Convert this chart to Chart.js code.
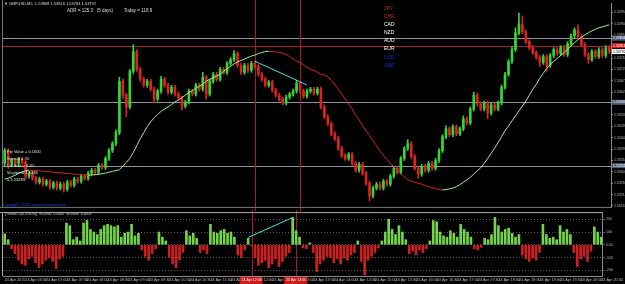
<!DOCTYPE html>
<html>
<head>
<meta charset="utf-8">
<script src="https://cdn.jsdelivr.net/npm/chart.js@4"></script>
<style>
  body { margin: 0; background: #000; }
  #wrap { position: relative; width: 625px; height: 284px; background: #000; overflow: hidden; font-family: 'Liberation Sans', Arial, sans-serif; }
  canvas { position: absolute; left: 0; }
  .txt { position: absolute; white-space: pre; line-height: 1; }
</style>
</head>
<body>
<div id="wrap">
  <canvas id="mainChart" width="625" height="211" style="top:0"></canvas>
  <canvas id="oscChart" width="625" height="74" style="top:210px"></canvas>
  <div class="txt" style="left:4px;top:2px;font-size:4px;color:#ddd">▼ GBPUSD,M5  1.53808 1.53816 1.53784 1.53792</div>
  <div class="txt" style="left:67px;top:9px;font-size:4.5px;color:#ddd">ADR = 125.3   (5 days)         Today = 118.9</div>
  <div id="ccy" class="txt" style="left:384px;top:4px;font-size:5px;line-height:8.1px"></div>
  <div id="info" class="txt" style="left:7px;top:148px;font-size:4px;line-height:7px;color:#d8f0c8"></div>
  <div class="txt" style="left:3px;top:204px;font-size:3.5px;color:#2a40ff">Copyright © 2015, www.forexfactory.com</div>
  <div class="txt" style="left:5px;top:213px;font-size:3.5px;color:#ccc">[TrendCCI(6,3/3/20)]  94.0000  0.0000  94.0000  0.0000</div>
</div>
<script>
const priceTicks = [1.53950, 1.53904, 1.53858, 1.53812, 1.53766, 1.53720, 1.53674, 1.53628, 1.53582,
    1.53536, 1.53490, 1.53444, 1.53398, 1.53352, 1.53306, 1.53260, 1.53214, 1.53168];
const oscTicks = [200, 100, 0, -100, -200];

const open = [
    1.53340, 1.53392, 1.53336, 1.53352, 1.53340, 1.53356, 1.53344, 1.53288, 1.53300, 1.53280,
    1.53264, 1.53276, 1.53256, 1.53268, 1.53244, 1.53260, 1.53240, 1.53256, 1.53236, 1.53264,
    1.53252, 1.53276, 1.53268, 1.53288, 1.53280, 1.53300, 1.53312, 1.53304, 1.53332, 1.53324,
    1.53360, 1.53392, 1.53420, 1.53464, 1.53672, 1.53616, 1.53568, 1.53712, 1.53792, 1.53720,
    1.53680, 1.53656, 1.53672, 1.53640, 1.53600, 1.53632, 1.53680, 1.53656, 1.53628, 1.53648,
    1.53620, 1.53604, 1.53572, 1.53588, 1.53632, 1.53620, 1.53656, 1.53640, 1.53688, 1.53620,
    1.53672, 1.53700, 1.53680, 1.53720, 1.53708, 1.53744, 1.53760, 1.53784, 1.53736, 1.53708,
    1.53736, 1.53716, 1.53744, 1.53732, 1.53700, 1.53680, 1.53656, 1.53668, 1.53636, 1.53616,
    1.53600, 1.53584, 1.53608, 1.53620, 1.53632, 1.53664, 1.53632, 1.53612, 1.53632, 1.53640,
    1.53624, 1.53640, 1.53568, 1.53528, 1.53500, 1.53460, 1.53440, 1.53400, 1.53372, 1.53360,
    1.53376, 1.53340, 1.53312, 1.53336, 1.53300, 1.53260, 1.53208, 1.53240, 1.53256, 1.53240,
    1.53268, 1.53256, 1.53288, 1.53320, 1.53304, 1.53360, 1.53400, 1.53420, 1.53368, 1.53320,
    1.53296, 1.53328, 1.53312, 1.53340, 1.53320, 1.53352, 1.53392, 1.53448, 1.53480, 1.53456,
    1.53488, 1.53460, 1.53480, 1.53520, 1.53504, 1.53560, 1.53616, 1.53580, 1.53560, 1.53584,
    1.53544, 1.53576, 1.53560, 1.53584, 1.53648, 1.53700, 1.53752, 1.53800, 1.53868, 1.53904,
    1.53872, 1.53832, 1.53808, 1.53788, 1.53768, 1.53748, 1.53772, 1.53736, 1.53776, 1.53800,
    1.53784, 1.53808, 1.53780, 1.53824, 1.53856, 1.53880, 1.53852, 1.53820, 1.53780, 1.53760,
    1.53792, 1.53772, 1.53800, 1.53776, 1.53808
];
const close = [
    1.53392, 1.53336, 1.53352, 1.53340, 1.53356, 1.53344, 1.53288, 1.53300, 1.53280, 1.53264,
    1.53276, 1.53256, 1.53268, 1.53244, 1.53260, 1.53240, 1.53256, 1.53236, 1.53264, 1.53252,
    1.53276, 1.53268, 1.53288, 1.53280, 1.53300, 1.53312, 1.53304, 1.53332, 1.53324, 1.53360,
    1.53392, 1.53420, 1.53464, 1.53672, 1.53616, 1.53568, 1.53712, 1.53792, 1.53720, 1.53680,
    1.53656, 1.53672, 1.53640, 1.53600, 1.53632, 1.53680, 1.53656, 1.53628, 1.53648, 1.53620,
    1.53604, 1.53572, 1.53588, 1.53632, 1.53620, 1.53656, 1.53640, 1.53688, 1.53620, 1.53672,
    1.53700, 1.53680, 1.53720, 1.53708, 1.53744, 1.53760, 1.53784, 1.53736, 1.53708, 1.53736,
    1.53716, 1.53744, 1.53732, 1.53700, 1.53680, 1.53656, 1.53668, 1.53636, 1.53616, 1.53600,
    1.53584, 1.53608, 1.53620, 1.53632, 1.53664, 1.53632, 1.53612, 1.53632, 1.53640, 1.53624,
    1.53640, 1.53568, 1.53528, 1.53500, 1.53460, 1.53440, 1.53400, 1.53372, 1.53360, 1.53376,
    1.53340, 1.53312, 1.53336, 1.53300, 1.53260, 1.53208, 1.53240, 1.53256, 1.53240, 1.53268,
    1.53256, 1.53288, 1.53320, 1.53304, 1.53360, 1.53400, 1.53420, 1.53368, 1.53320, 1.53296,
    1.53328, 1.53312, 1.53340, 1.53320, 1.53352, 1.53392, 1.53448, 1.53480, 1.53456, 1.53488,
    1.53460, 1.53480, 1.53520, 1.53504, 1.53560, 1.53616, 1.53580, 1.53560, 1.53584, 1.53544,
    1.53576, 1.53560, 1.53584, 1.53648, 1.53700, 1.53752, 1.53800, 1.53868, 1.53904, 1.53872,
    1.53832, 1.53808, 1.53788, 1.53768, 1.53748, 1.53772, 1.53736, 1.53776, 1.53800, 1.53784,
    1.53808, 1.53780, 1.53824, 1.53856, 1.53880, 1.53852, 1.53820, 1.53780, 1.53760, 1.53792,
    1.53772, 1.53800, 1.53776, 1.53808, 1.53792
];
const high = [
    1.53400, 1.53400, 1.53360, 1.53360, 1.53364, 1.53364, 1.53352, 1.53308, 1.53308, 1.53288,
    1.53284, 1.53284, 1.53276, 1.53276, 1.53268, 1.53268, 1.53264, 1.53264, 1.53272, 1.53272,
    1.53284, 1.53284, 1.53296, 1.53296, 1.53308, 1.53320, 1.53320, 1.53340, 1.53340, 1.53368,
    1.53400, 1.53428, 1.53476, 1.53688, 1.53680, 1.53624, 1.53720, 1.53820, 1.53800, 1.53728,
    1.53688, 1.53680, 1.53680, 1.53648, 1.53640, 1.53692, 1.53688, 1.53664, 1.53656, 1.53656,
    1.53628, 1.53612, 1.53596, 1.53640, 1.53640, 1.53664, 1.53664, 1.53708, 1.53696, 1.53680,
    1.53708, 1.53708, 1.53728, 1.53728, 1.53752, 1.53768, 1.53796, 1.53792, 1.53744, 1.53744,
    1.53744, 1.53752, 1.53752, 1.53740, 1.53708, 1.53688, 1.53676, 1.53676, 1.53644, 1.53624,
    1.53608, 1.53616, 1.53628, 1.53640, 1.53676, 1.53672, 1.53640, 1.53640, 1.53648, 1.53648,
    1.53648, 1.53648, 1.53576, 1.53536, 1.53508, 1.53468, 1.53448, 1.53408, 1.53380, 1.53384,
    1.53384, 1.53348, 1.53344, 1.53344, 1.53308, 1.53268, 1.53248, 1.53264, 1.53264, 1.53276,
    1.53276, 1.53296, 1.53328, 1.53328, 1.53368, 1.53408, 1.53436, 1.53428, 1.53376, 1.53328,
    1.53336, 1.53336, 1.53348, 1.53348, 1.53360, 1.53400, 1.53456, 1.53492, 1.53488, 1.53496,
    1.53496, 1.53488, 1.53532, 1.53528, 1.53568, 1.53628, 1.53624, 1.53588, 1.53592, 1.53592,
    1.53584, 1.53584, 1.53592, 1.53656, 1.53708, 1.53760, 1.53812, 1.53888, 1.53948, 1.53936,
    1.53880, 1.53840, 1.53816, 1.53796, 1.53776, 1.53780, 1.53780, 1.53784, 1.53808, 1.53808,
    1.53816, 1.53816, 1.53832, 1.53864, 1.53888, 1.53900, 1.53860, 1.53828, 1.53788, 1.53800,
    1.53800, 1.53808, 1.53808, 1.53816, 1.53816
];
const low = [
    1.53328, 1.53320, 1.53328, 1.53332, 1.53332, 1.53336, 1.53276, 1.53280, 1.53272, 1.53256,
    1.53256, 1.53248, 1.53248, 1.53236, 1.53236, 1.53232, 1.53232, 1.53224, 1.53228, 1.53244,
    1.53244, 1.53260, 1.53260, 1.53272, 1.53272, 1.53292, 1.53296, 1.53296, 1.53316, 1.53316,
    1.53352, 1.53384, 1.53412, 1.53456, 1.53604, 1.53528, 1.53560, 1.53704, 1.53712, 1.53672,
    1.53648, 1.53648, 1.53632, 1.53584, 1.53592, 1.53624, 1.53648, 1.53620, 1.53620, 1.53612,
    1.53596, 1.53556, 1.53564, 1.53580, 1.53612, 1.53612, 1.53632, 1.53632, 1.53600, 1.53612,
    1.53664, 1.53672, 1.53672, 1.53700, 1.53700, 1.53736, 1.53752, 1.53728, 1.53700, 1.53700,
    1.53708, 1.53708, 1.53724, 1.53692, 1.53672, 1.53648, 1.53648, 1.53628, 1.53608, 1.53592,
    1.53576, 1.53576, 1.53600, 1.53612, 1.53624, 1.53624, 1.53604, 1.53604, 1.53624, 1.53616,
    1.53616, 1.53560, 1.53520, 1.53492, 1.53452, 1.53432, 1.53392, 1.53364, 1.53352, 1.53352,
    1.53332, 1.53304, 1.53304, 1.53292, 1.53252, 1.53188, 1.53200, 1.53232, 1.53232, 1.53232,
    1.53248, 1.53248, 1.53280, 1.53296, 1.53296, 1.53352, 1.53392, 1.53360, 1.53312, 1.53280,
    1.53288, 1.53304, 1.53304, 1.53312, 1.53312, 1.53344, 1.53384, 1.53440, 1.53448, 1.53448,
    1.53452, 1.53452, 1.53472, 1.53496, 1.53496, 1.53552, 1.53572, 1.53552, 1.53552, 1.53520,
    1.53536, 1.53552, 1.53552, 1.53576, 1.53640, 1.53692, 1.53744, 1.53792, 1.53860, 1.53864,
    1.53824, 1.53800, 1.53780, 1.53760, 1.53732, 1.53740, 1.53712, 1.53728, 1.53768, 1.53776,
    1.53776, 1.53772, 1.53772, 1.53816, 1.53848, 1.53844, 1.53812, 1.53772, 1.53744, 1.53752,
    1.53764, 1.53764, 1.53768, 1.53768, 1.53784
];
const maLine = [
    1.53276, 1.53280, 1.53286, 1.53292, 1.53300, 1.53306, 1.53310, 1.53313, 1.53312, 1.53311,
    1.53310, 1.53308, 1.53307, 1.53306, 1.53304, 1.53303, 1.53302, 1.53300, 1.53299, 1.53298,
    1.53296, 1.53295, 1.53294, 1.53293, 1.53292, 1.53293, 1.53294, 1.53296, 1.53298, 1.53301,
    1.53304, 1.53308, 1.53311, 1.53314, 1.53328, 1.53344, 1.53360, 1.53384, 1.53412, 1.53440,
    1.53464, 1.53488, 1.53508, 1.53524, 1.53538, 1.53550, 1.53560, 1.53568, 1.53578, 1.53588,
    1.53596, 1.53606, 1.53616, 1.53626, 1.53634, 1.53644, 1.53652, 1.53660, 1.53672, 1.53680,
    1.53686, 1.53694, 1.53700, 1.53712, 1.53722, 1.53732, 1.53742, 1.53750, 1.53756, 1.53762,
    1.53768, 1.53774, 1.53778, 1.53784, 1.53788, 1.53792, 1.53793, 1.53792, 1.53791, 1.53789,
    1.53786, 1.53780, 1.53772, 1.53762, 1.53754, 1.53747, 1.53738, 1.53728, 1.53720, 1.53716,
    1.53708, 1.53700, 1.53696, 1.53690, 1.53676, 1.53660, 1.53640, 1.53620, 1.53600, 1.53580,
    1.53560, 1.53536, 1.53516, 1.53492, 1.53472, 1.53452, 1.53432, 1.53412, 1.53390, 1.53372,
    1.53356, 1.53340, 1.53326, 1.53312, 1.53298, 1.53286, 1.53274, 1.53268, 1.53264, 1.53260,
    1.53256, 1.53250, 1.53246, 1.53242, 1.53238, 1.53234, 1.53233, 1.53234, 1.53237, 1.53240,
    1.53246, 1.53254, 1.53264, 1.53273, 1.53284, 1.53296, 1.53310, 1.53322, 1.53340, 1.53360,
    1.53380, 1.53402, 1.53424, 1.53448, 1.53472, 1.53492, 1.53512, 1.53532, 1.53552, 1.53572,
    1.53592, 1.53616, 1.53640, 1.53660, 1.53684, 1.53704, 1.53724, 1.53740, 1.53752, 1.53764,
    1.53776, 1.53788, 1.53802, 1.53814, 1.53828, 1.53840, 1.53850, 1.53860, 1.53868, 1.53876,
    1.53882, 1.53888, 1.53892, 1.53896, 1.53900
];
const oscValues = [
    85, 40, -30, -70, -120, -150, -160, -110, -90, -140,
    -180, -150, -120, -100, -130, -185, -110, -90, 170, 150,
    40, 60, 30, 170, 190, 120, 100, 80, 120, 150,
    160, 150, 140, 150, 60, 90, 100, 160, 70, 90,
    -40, -90, -120, -70, -30, 100, 60, 30, -100, -150,
    -180, -120, -60, 110, 70, 90, 50, -60, -40, -70,
    160, 100, 90, 110, 120, 90, 100, 60, -80, -100,
    -40, 50, -10, -100, -160, -140, -120, -180, -150, -110,
    -170, -130, -90, -60, 213, 110, 60, -25, -30, 15,
    -60, -210, -150, -120, -90, -100, -140, -110, -150, -100,
    -120, -80, -60, 30, -130, -236, -120, -90, -60, -25,
    30, 100, 200, 120, 80, 150, 100, 40, -70, -50,
    -80, -40, -60, -30, 30, 190, 180, 100, 70, 60,
    110, 90, 60, 160, 120, 100, 60, -30, -40, -20,
    50, 40, 80, 214, 150, 100, 120, 130, 90, 60,
    80, -80, -110, -130, -100, -120, -60, 160, 80, 50,
    60, 40, 150, 100, 120, 80, -60, -170, -110, -90,
    -130, -50, 140, 100, 60
];

const levels = [1.53846, 1.53816, 1.53587, 1.53331];
const levelColors = ['#8c94a4', '#a82222', '#8c94a4', '#8c94a4'];
const levelTagColors = ['#4c5c78', '#d01818', '#4c5c78', '#4c5c78'];
const vLines = [72, 85];
const trendMain = [[72, 1.53753], [87, 1.53657]];
const trendOsc = [[71, 58], [84, 213]];

const currencies = ['JPY', 'CHF', 'CAD', 'NZD', 'AUD', 'EUR', 'USD', 'GBP'];
const currencyColors = ['#d02828', '#d02828', '#ffffff', '#ffffff', '#ffffff', '#ffffff', '#1a2ccc', '#1a2ccc'];
const infoLines = ['Pip Value = 0.1000', 'Spread = 20', 'Lot Size = 0.20', '50 pips at 1.5336', '= 1.53283'];

const months = ['Jan', 'Feb', 'Mar', 'Apr', 'May', 'Jun', 'Jul', 'Aug', 'Sep', 'Oct', 'Nov', 'Dec'];
const startTime = Date.UTC(2015, 3, 24, 6, 0);
const labels = close.map((c, i) => {
    const d = new Date(startTime + i * 5 * 60000);
    const hh = String(d.getUTCHours()).padStart(2, '0');
    const mm = String(d.getUTCMinutes()).padStart(2, '0');
    return d.getUTCDate() + ' ' + months[d.getUTCMonth()] + ' ' + hh + ':' + mm;
});

const upColor = '#33d633';
const downColor = '#dc2222';
const candleColors = close.map((c, i) => c >= open[i] ? upColor : downColor);

document.getElementById('ccy').innerHTML = currencies
    .map((c, i) => '<span style="color:' + currencyColors[i] + '">' + c + '</span>').join('\n');
document.getElementById('info').textContent = infoLines.join('\n');

Chart.defaults.font.family = "'Liberation Sans', Arial, sans-serif";

const mainOverlay = {
    id: 'mainOverlay',
    beforeDatasetsDraw(chart) {
        const {ctx, chartArea: a, scales: {x, y}} = chart;
        ctx.save();
        ctx.lineWidth = 1;
        levels.forEach((p, i) => {
            const py = Math.round(y.getPixelForValue(p)) + 0.5;
            ctx.strokeStyle = levelColors[i];
            ctx.beginPath();
            ctx.moveTo(a.left, py);
            ctx.lineTo(a.right, py);
            ctx.stroke();
        });
        ctx.strokeStyle = '#a81c1c';
        vLines.forEach(idx => {
            const px = Math.round(x.getPixelForValue(idx)) + 0.5;
            ctx.beginPath();
            ctx.moveTo(px, 0);
            ctx.lineTo(px, chart.height);
            ctx.stroke();
        });
        ctx.strokeStyle = '#777';
        ctx.beginPath();
        ctx.moveTo(2.5, 0);
        ctx.lineTo(2.5, a.bottom);
        ctx.moveTo(0, a.bottom - 0.5);
        ctx.lineTo(a.right, a.bottom - 0.5);
        ctx.stroke();
        ctx.restore();
    },
    afterDraw(chart) {
        const {ctx, chartArea: a, scales: {y}} = chart;
        ctx.save();
        ctx.font = "3.5px 'Liberation Sans', Arial";
        ctx.textBaseline = 'middle';
        levels.forEach((p, i) => {
            const py = y.getPixelForValue(p);
            ctx.fillStyle = levelTagColors[i];
            ctx.fillRect(a.right + 1, py - 2.5, 13, 5);
            ctx.fillStyle = '#fff';
            ctx.fillText(p.toFixed(5), a.right + 2, py);
        });
        const last = close[close.length - 1];
        const py = y.getPixelForValue(last);
        ctx.fillStyle = '#fff';
        ctx.fillRect(a.right + 1, py - 2.5, 13, 5);
        ctx.fillStyle = '#000';
        ctx.fillText(last.toFixed(5), a.right + 2, py);
        ctx.restore();
    }
};

const oscOverlay = {
    id: 'oscOverlay',
    beforeDatasetsDraw(chart) {
        const {ctx, chartArea: a, scales: {x}} = chart;
        ctx.save();
        ctx.lineWidth = 1;
        ctx.strokeStyle = '#a81c1c';
        vLines.forEach(idx => {
            const px = Math.round(x.getPixelForValue(idx)) + 0.5;
            ctx.beginPath();
            ctx.moveTo(px, 0);
            ctx.lineTo(px, a.bottom);
            ctx.stroke();
        });
        ctx.strokeStyle = '#aaa';
        ctx.beginPath();
        ctx.moveTo(0, a.top - 0.5);
        ctx.lineTo(a.right, a.top - 0.5);
        ctx.moveTo(2.5, a.top);
        ctx.lineTo(2.5, a.bottom);
        ctx.stroke();
        ctx.restore();
    },
    afterDraw(chart) {
        const {ctx, chartArea: a, scales: {x}} = chart;
        ctx.save();
        ctx.font = "3.5px 'Liberation Sans', Arial";
        ctx.textBaseline = 'middle';
        vLines.forEach(idx => {
            const px = x.getPixelForValue(idx);
            ctx.fillStyle = '#d01818';
            ctx.fillRect(px - 12, a.bottom + 1, 23, chart.height - a.bottom - 1);
            ctx.fillStyle = '#fff';
            ctx.fillText(labels[idx], px - 10, a.bottom + 4.5);
        });
        ctx.restore();
    }
};

const mainChart = new Chart(document.getElementById('mainChart'), {
    type: 'bar',
    data: {
        labels: labels,
        datasets: [
            {
                type: 'line',
                data: maLine,
                borderColor: '#9ef08c',
                borderWidth: 1,
                pointRadius: 0,
                tension: 0,
                segment: {
                    borderColor: ctx => ctx.p1.parsed.y >= ctx.p0.parsed.y ? '#9ef08c' : '#d42020'
                },
                order: 0
            },
            {
                // category scale needs the label string, not the index, in object data
                type: 'line',
                data: trendMain.map(p => ({x: labels[p[0]], y: p[1]})),
                borderColor: '#3fe0e8',
                borderWidth: 1,
                pointRadius: 0,
                order: 0
            },
            {
                data: open.map((o, i) => [o, close[i]]),
                backgroundColor: candleColors,
                barThickness: 2,
                grouped: false,
                order: 1
            },
            {
                data: low.map((l, i) => [l, high[i]]),
                backgroundColor: candleColors,
                barThickness: 1,
                grouped: false,
                order: 2
            }
        ]
    },
    options: {
        responsive: false,
        animation: false,
        devicePixelRatio: 1,
        layout: {padding: {top: 3, left: 3, right: 0, bottom: 1}},
        plugins: {legend: {display: false}, tooltip: {enabled: false}},
        scales: {
            x: {display: false, offset: true},
            y: {
                position: 'right',
                min: 1.53160,
                max: 1.53988,
                afterBuildTicks: s => { s.ticks = priceTicks.map(v => ({value: v})); },
                afterFit: s => { s.width = 14; },
                grid: {drawOnChartArea: false, tickLength: 2, color: '#888'},
                border: {color: '#888'},
                ticks: {
                    color: '#bbb',
                    font: {size: 3.5},
                    padding: 1,
                    callback: v => v.toFixed(5)
                }
            }
        }
    },
    plugins: [mainOverlay]
});

const oscChart = new Chart(document.getElementById('oscChart'), {
    type: 'bar',
    data: {
        labels: labels,
        datasets: [
            {
                type: 'line',
                data: trendOsc.map(p => ({x: labels[p[0]], y: p[1]})),
                borderColor: '#3fe0e8',
                borderWidth: 1,
                pointRadius: 0,
                order: 0
            },
            {
                data: oscValues,
                backgroundColor: oscValues.map(v => v >= 0 ? '#74d24c' : '#cc2020'),
                barThickness: 2,
                grouped: false,
                order: 1
            }
        ]
    },
    options: {
        responsive: false,
        animation: false,
        devicePixelRatio: 1,
        layout: {padding: {top: 2, left: 3, right: 0, bottom: 0}},
        plugins: {legend: {display: false}, tooltip: {enabled: false}},
        scales: {
            x: {
                offset: true,
                grid: {display: false, drawTicks: false, tickLength: 0},
                border: {color: '#888'},
                afterFit: s => { s.height = 8; },
                ticks: {
                    autoSkip: false,
                    maxRotation: 0,
                    minRotation: 0,
                    align: 'start',
                    color: '#bbbbbb',
                    font: {size: 3.8},
                    padding: 2,
                    callback: (v, i) => i % 6 === 0 ? (i === 0 ? '24 Apr 2015' : labels[i]) : ''
                }
            },
            y: {
                position: 'right',
                min: -244,
                max: 248,
                afterBuildTicks: s => { s.ticks = oscTicks.map(v => ({value: v})); },
                afterFit: s => { s.width = 14; },
                grid: {color: '#5a5a5a', tickLength: 2},
                border: {color: '#888', dash: [1, 2]},
                ticks: {
                    color: '#bbb',
                    font: {size: 3.5},
                    padding: 1,
                    callback: v => v === 0 ? '0.00' : String(v)
                }
            }
        }
    },
    plugins: [oscOverlay]
});
</script>
</body>
</html>
